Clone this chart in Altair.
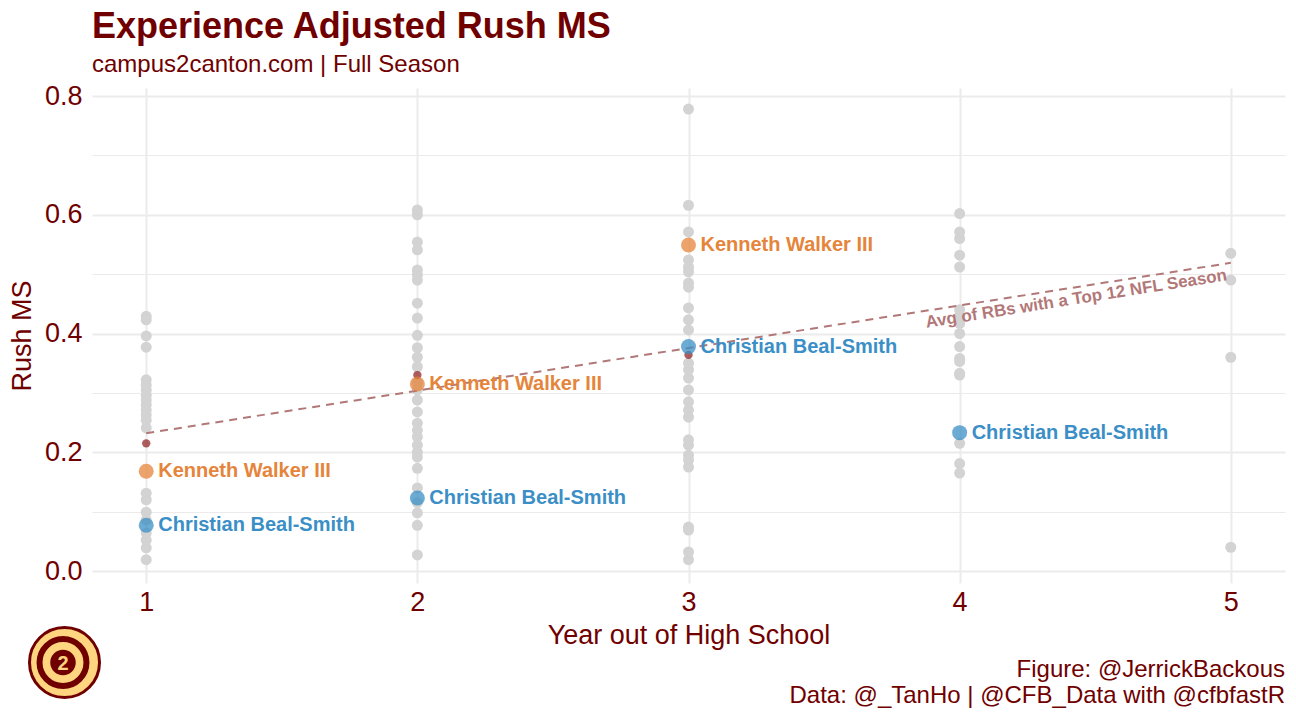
import altair as alt
import pandas as pd

# ---- data ----
yr1 = [0.429, 0.423, 0.396, 0.377, 0.322, 0.313, 0.305, 0.296, 0.288, 0.280, 0.271,
       0.263, 0.254, 0.241, 0.131, 0.120, 0.099, 0.086, 0.064, 0.052, 0.039, 0.019]
yr2 = [0.608, 0.600, 0.554, 0.541, 0.507, 0.499, 0.490, 0.451, 0.426, 0.397, 0.376,
       0.360, 0.344, 0.317, 0.305, 0.288, 0.268, 0.249, 0.237, 0.226, 0.212, 0.200,
       0.192, 0.173, 0.140, 0.115, 0.098, 0.077, 0.027]
yr3 = [0.778, 0.616, 0.571, 0.524, 0.512, 0.504, 0.485, 0.478, 0.443, 0.423, 0.406,
       0.350, 0.339, 0.325, 0.305, 0.285, 0.271, 0.259, 0.221, 0.212, 0.195, 0.187,
       0.175, 0.074, 0.069, 0.032, 0.019]
yr4 = [0.602, 0.571, 0.560, 0.532, 0.512, 0.440, 0.430, 0.417, 0.400, 0.378, 0.358,
       0.353, 0.333, 0.330, 0.215, 0.181, 0.165]
yr5 = [0.535, 0.490, 0.360, 0.040]

kw_years = [1, 2, 3]
kw_ms = [0.168, 0.315, 0.549]
cbs_years = [1, 2, 3, 4]
cbs_ms = [0.077, 0.123, 0.378, 0.233]

avg_years = [1, 2, 3]
avg_ms = [0.215, 0.330, 0.364]

trend_x = [1, 5]
trend_y = [0.232, 0.519]

players = ["Kenneth Walker III", "Christian Beal-Smith"]
player_colors = ["#e5853b", "#3b8fc6"]

MAROON = "#700000"
FONT = "Liberation Sans"

# ---- tables ----
rows = []
for yr, vals in zip([1, 2, 3, 4, 5], [yr1, yr2, yr3, yr4, yr5]):
    for v in vals:
        rows.append({"year": yr, "ms": v})
gray_df = pd.DataFrame(rows)

hl_df = pd.DataFrame(
    [{"year": y, "ms": m, "player": players[0]} for y, m in zip(kw_years, kw_ms)]
    + [{"year": y, "ms": m, "player": players[1]} for y, m in zip(cbs_years, cbs_ms)]
)
avg_df = pd.DataFrame({"year": avg_years, "ms": avg_ms})
trend_df = pd.DataFrame({"x": [trend_x[0]], "x2": [trend_x[1]],
                         "y": [trend_y[0]], "y2": [trend_y[1]]})
ann_df = pd.DataFrame({"x": [4.43], "y": [0.458],
                       "t": ["Avg of RBs with a Top 12 NFL Season"]})

W, H = 1193, 495

common_axis = dict(
    ticks=False, domain=False, gridColor="#ebebeb",
    labelFont=FONT, titleFont=FONT, labelColor=MAROON, titleColor=MAROON,
    labelFontSize=27, titleFontSize=27, titleFontWeight="normal",
)
xaxis = alt.Axis(
    values=[1, 1.5, 2, 2.5, 3, 3.5, 4, 4.5, 5],
    labelExpr="datum.value % 1 == 0 ? datum.label : ''",
    format="d",
    title="Year out of High School",
    labelPadding=6, titlePadding=7,
    gridWidth={"condition": {"test": "datum.value % 1 == 0", "value": 2}, "value": 1},
    **common_axis,
)
yaxis = alt.Axis(
    values=[0, 0.1, 0.2, 0.3, 0.4, 0.5, 0.6, 0.7, 0.8],
    labelExpr="round(datum.value*10) % 2 == 0 ? format(datum.value, '.1f') : ''",
    title="Rush MS",
    labelPadding=10, titlePadding=8,
    gridWidth={"condition": {"test": "round(datum.value*10) % 2 == 0", "value": 2}, "value": 1},
    **common_axis,
)
xscale = alt.Scale(domain=[0.8, 5.2], nice=False, zero=False)
yscale = alt.Scale(domain=[-0.0202, 0.8135], nice=False, zero=False)


def X(field="year"):
    return alt.X(f"{field}:Q", scale=xscale, axis=xaxis)


def Y(field="ms"):
    return alt.Y(f"{field}:Q", scale=yscale, axis=yaxis)


gray = alt.Chart(gray_df).mark_point(
    filled=True, shape="circle", size=121, color="#d3d3d3", opacity=1
).encode(x=X(), y=Y())

trend = alt.Chart(trend_df).mark_rule(
    color="#b27878", strokeWidth=2, strokeDash=[8, 6]
).encode(x=X("x"), y=Y("y"), x2="x2:Q", y2="y2:Q")

avg = alt.Chart(avg_df).mark_point(
    filled=True, shape="circle", size=70, color="#8b1a1a", opacity=0.7
).encode(x=X(), y=Y())

color_scale = alt.Scale(domain=players, range=player_colors)

hl = alt.Chart(hl_df).mark_point(
    filled=True, shape="circle", size=225, opacity=0.75, strokeWidth=1
).encode(
    x=X(), y=Y(),
    color=alt.Color("player:N", scale=color_scale, legend=None),
)

hl_text = alt.Chart(hl_df).mark_text(
    align="left", baseline="middle", dx=12, fontSize=20, fontWeight="bold", font=FONT
).encode(
    x=X(), y=Y(), text="player:N",
    color=alt.Color("player:N", scale=color_scale, legend=None),
)

ann = alt.Chart(ann_df).mark_text(
    angle=351, fontSize=17, fontWeight="bold", color="#b27878", font=FONT,
    align="center", baseline="middle"
).encode(x=X("x"), y=Y("y"), text="t:N")

# footer caption
cap_df = pd.DataFrame({"t": ["Figure: @JerrickBackous",
                             "Data: @_TanHo | @CFB_Data with @cfbfastR"],
                       "yy": [589, 615]})
caption = alt.Chart(cap_df).mark_text(
    align="right", baseline="alphabetic", fontSize=24, color=MAROON, font=FONT
).encode(x=alt.value(W), y=alt.Y("yy:Q", scale=None), text="t:N")

# logo (decorative badge)
logo_df = pd.DataFrame({"k": ["a"]})
logo_outer = alt.Chart(logo_df).mark_point(
    shape="circle", filled=True, size=4900, fill="#ffd580", stroke=MAROON,
    strokeWidth=3, opacity=1
).encode(x=alt.value(-27.5), y=alt.value(574.5))
logo_ring = alt.Chart(logo_df).mark_point(
    shape="circle", filled=False, size=2200, stroke=MAROON, strokeWidth=6, opacity=1
).encode(x=alt.value(-29), y=alt.value(574.5))
logo_core = alt.Chart(logo_df).mark_point(
    shape="circle", filled=True, size=650, fill=MAROON, opacity=1
).encode(x=alt.value(-29), y=alt.value(574.5))
logo_two = alt.Chart(logo_df).mark_text(
    text="2", fontSize=20, fontWeight="bold", color="#ffd580", font=FONT,
    align="center", baseline="middle"
).encode(x=alt.value(-29), y=alt.value(575.5))

chart = alt.layer(
    gray, trend, avg, hl, hl_text, ann, caption,
    logo_outer, logo_ring, logo_core, logo_two
).properties(
    width=W, height=H,
    autosize=alt.AutoSizeParams(type="none"),
    padding={"left": 84, "top": 80, "right": 3, "bottom": 128},
    title=alt.TitleParams(
        text="Experience Adjusted Rush MS",
        subtitle="campus2canton.com | Full Season",
        anchor="start", frame="group",
        fontSize=36, fontWeight="bold", color=MAROON, font=FONT,
        subtitleFontSize=24, subtitleColor=MAROON, subtitleFont=FONT,
        subtitlePadding=7, offset=4,
    ),
).configure_view(stroke=None)

chart.save("out.html", embed_options={"renderer": "svg", "actions": False})
